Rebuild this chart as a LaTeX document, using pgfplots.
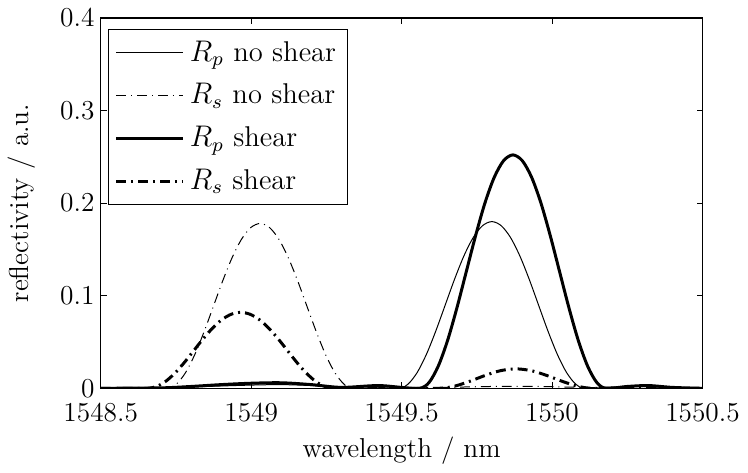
\documentclass[border=0pt]{standalone}
\usepackage{pgfplots}
\pgfplotsset{compat=1.18}
\begin{document}
\begin{tikzpicture}
\begin{axis}[
  scale only axis, width=242pt, height=149pt,
  xmin=1548.5, xmax=1550.5, ymin=0, ymax=0.4,
  xtick={1548.5,1549,1549.5,1550,1550.5},
  xticklabels={1548.5,1549,1549.5,1550,1550.5},
  ytick={0,0.1,0.2,0.3,0.4},
  yticklabels={0,0.1,0.2,0.3,0.4},
  tick align=inside, major tick length=2.4pt,
  axis line style={line width=0.6pt},
  every tick/.style={black, line width=0.4pt},
  font=\fontsize{11}{13}\selectfont,
  xlabel={wavelength / nm}, ylabel={reflectivity / a.u.},
  ylabel shift=3pt,
  xlabel shift=-1pt,
  xticklabel style={yshift=-2.5pt},
  yticklabel style={xshift=1pt},
  legend cell align=left,
  legend style={at={(0.012,0.97)}, anchor=north west, draw=black, line width=0.5pt,
    row sep=3.5pt, inner sep=2.5pt, font=\fontsize{11.5}{13}\selectfont},
  legend image code/.code={\draw[#1] (0pt,0pt) -- (27pt,0pt);},
]
% R_p no shear
\addplot[black, line width=0.4pt, smooth, tension=0.5] coordinates {
(1548.5,0) (1548.7,0.0003) (1548.85,0.002) (1549.0,0.0035) (1549.1,0.004) (1549.2,0.003)
(1549.3,0.001) (1549.4,0.0015) (1549.49,0)
(1549.521,0.0044) (1549.552,0.0172) (1549.583,0.0371) (1549.614,0.0622) (1549.645,0.09)
(1549.676,0.1178) (1549.707,0.1429) (1549.738,0.1628) (1549.769,0.1756) (1549.80,0.18)
(1549.831,0.1756) (1549.862,0.1628) (1549.893,0.1429) (1549.924,0.1178) (1549.955,0.09)
(1549.986,0.0622) (1550.017,0.0371) (1550.048,0.0172) (1550.079,0.0044) (1550.11,0)
(1550.2,0.0015) (1550.3,0.002) (1550.4,0.0005) (1550.5,0)};
\addlegendentry{$R_p$ no shear}
% R_s no shear
\addplot[black, line width=0.4pt, smooth, tension=0.5, dash pattern=on 4pt off 2pt on 0.4pt off 2pt] coordinates {
(1548.5,0) (1548.65,0) (1548.72,0)
(1548.751,0.0044) (1548.782,0.017) (1548.813,0.0367) (1548.844,0.0615) (1548.875,0.089)
(1548.906,0.1165) (1548.937,0.1413) (1548.968,0.161) (1548.999,0.1736) (1549.03,0.178)
(1549.061,0.1736) (1549.092,0.161) (1549.123,0.1413) (1549.154,0.1165) (1549.185,0.089)
(1549.216,0.0615) (1549.247,0.0367) (1549.278,0.017) (1549.309,0.0044) (1549.34,0)
(1549.5,0) (1549.65,0.001) (1549.8,0.002) (1549.95,0.002) (1550.1,0.001) (1550.25,0) (1550.5,0)};
\addlegendentry{$R_s$ no shear}
% R_p shear
\addplot[black, line width=1.2pt, smooth, tension=0.5] coordinates {
(1548.5,0) (1548.7,0.0005) (1548.8,0.002) (1548.9,0.004) (1549.0,0.0055) (1549.1,0.006)
(1549.2,0.004) (1549.3,0.001) (1549.42,0.003) (1549.5,0.001) (1549.56,0)
(1549.591,0.0062) (1549.622,0.0241) (1549.653,0.0519) (1549.684,0.0871) (1549.715,0.126)
(1549.746,0.1649) (1549.777,0.2001) (1549.808,0.2279) (1549.839,0.2458) (1549.87,0.252)
(1549.901,0.2458) (1549.932,0.2279) (1549.963,0.2001) (1549.994,0.1649) (1550.025,0.126)
(1550.056,0.0871) (1550.087,0.0519) (1550.118,0.0241) (1550.149,0.0062) (1550.18,0)
(1550.25,0.002) (1550.32,0.003) (1550.4,0.001) (1550.5,0)};
\addlegendentry{$R_p$ shear}
% R_s shear
\addplot[black, line width=1.2pt, smooth, tension=0.5, dash pattern=on 4pt off 2pt on 0.8pt off 2pt] coordinates {
(1548.5,0) (1548.6,0) (1548.655,0)
(1548.686,0.002) (1548.717,0.0078) (1548.748,0.0169) (1548.779,0.0283) (1548.81,0.041)
(1548.841,0.0537) (1548.872,0.0651) (1548.903,0.0742) (1548.934,0.08) (1548.965,0.082)
(1548.996,0.08) (1549.027,0.0742) (1549.058,0.0651) (1549.089,0.0537) (1549.12,0.041)
(1549.151,0.0283) (1549.182,0.0169) (1549.213,0.0078) (1549.244,0.002) (1549.275,0)
(1549.45,0) (1549.62,0)
(1549.672,0.002) (1549.724,0.0073) (1549.776,0.0137) (1549.828,0.019) (1549.88,0.021)
(1549.932,0.019) (1549.984,0.0137) (1550.036,0.0073) (1550.088,0.002) (1550.14,0)
(1550.3,0) (1550.5,0)};
\addlegendentry{$R_s$ shear}
\end{axis}
\end{tikzpicture}
\end{document}
